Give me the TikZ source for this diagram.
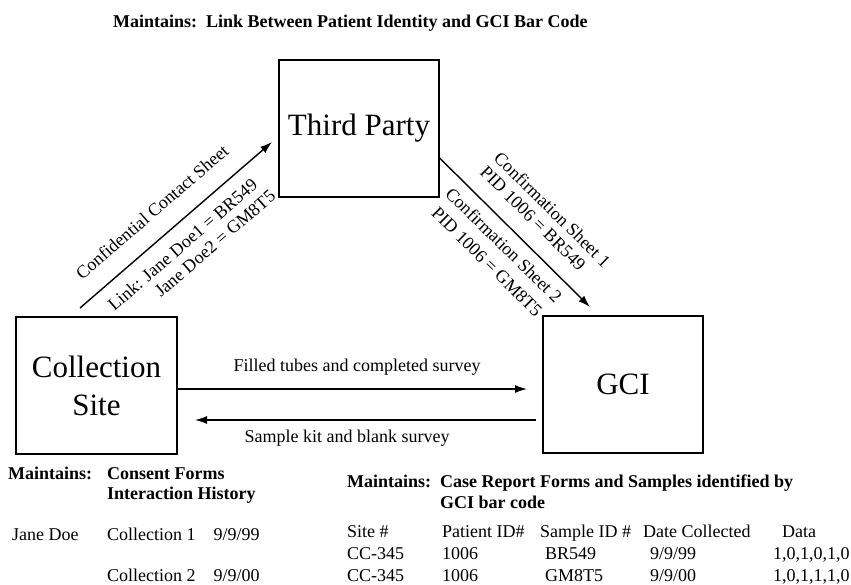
\documentclass[tikz,border=0pt]{standalone}
\usepackage{fontspec}
\setmainfont{Liberation Serif}
\usetikzlibrary{arrows.meta}

\begin{document}
\begin{tikzpicture}[x=1pt, y=-1pt,
	box/.style={draw, line width=1.2pt, minimum width=160pt, minimum height=137pt, inner sep=0pt, align=center, font=\fontsize{31}{38}\selectfont},
	flow/.style={line width=1.4pt, -{Latex[length=12pt, width=8pt]}},
	lbl/.style={inner sep=0pt, font=\fontsize{18}{20}\selectfont},
	txt/.style={inner sep=0pt, anchor=base west, font=\fontsize{18}{20}\selectfont},
	hdr/.style={txt, font=\fontsize{18}{20}\selectfont\bfseries}]
	\useasboundingbox (0,0) rectangle (851,584);
	\node[hdr] (t) at (113,27) {Maintains:\ \ Link Between Patient Identity and GCI Bar Code};
	\node[box] (0) at (359,128.5) {Third Party};
	\node[box, minimum width=161pt] (1) at (96.5,385.5) {Collection\\Site};
	\node[box] (2) at (623,384.5) {GCI};
	\coordinate (3) at (80,308);
	\coordinate (4) at (272,142);
	\coordinate (5) at (590,307);
	\coordinate (6) at (527,389);
	\coordinate (7) at (195,420);
	\draw[flow] (3) to (4);
	\draw[flow] ([yshift=-29.5pt]0.east) to (5);
	\draw[flow] ([yshift=-3.5pt]1.east) to (6);
	\draw[flow] ([xshift=-6pt, yshift=-35.5pt]2.west) to (7);
	\node[lbl, rotate=40.85] (8) at (152,212) {Confidential Contact Sheet};
	\node[lbl, rotate=40.85] (9) at (182.5,244.5) {Link: Jane Doe1 = BR549};
	\node[lbl, rotate=40.85] (10) at (215,243.5) {Jane Doe2 = GM8T5};
	\node[lbl, rotate=-44.6] (11) at (552.5,209.5) {Confirmation Sheet 1};
	\node[lbl, rotate=-44.6] (12) at (533,218.5) {PID 1006 = BR549};
	\node[lbl, rotate=-44.6] (13) at (504,245) {Confirmation Sheet 2};
	\node[lbl, rotate=-44.6] (14) at (487,262) {PID 1006 = GM8T5};
	\node[lbl] (15) at (357,367) {Filled tubes and completed survey};
	\node[lbl] (16) at (347,438) {Sample kit and blank survey};
	% collection site records
	\node[hdr] (17) at (8,479) {Maintains:};
	\node[hdr] (18) at (107,479) {Consent Forms};
	\node[hdr] (19) at (107,499) {Interaction History};
	\node[txt] (20) at (12,540) {Jane Doe};
	\node[txt] (21) at (107,540) {Collection 1\quad 9/9/99};
	\node[txt] (22) at (107,581) {Collection 2\quad 9/9/00};
	% GCI records
	\node[hdr] (23) at (347,487) {Maintains:};
	\node[hdr] (24) at (440,487) {Case Report Forms and Samples identified by};
	\node[hdr] (25) at (440,508) {GCI bar code};
	\node[txt] (26) at (347,537) {Site \#};
	\node[txt] (27) at (442,537) {Patient ID\#};
	\node[txt] (28) at (540,537) {Sample ID \#};
	\node[txt] (29) at (643,537) {Date Collected};
	\node[txt] (30) at (782,537) {Data};
	\node[txt] (31) at (347,559) {CC-345};
	\node[txt] (32) at (442,559) {1006};
	\node[txt] (33) at (545,559) {BR549};
	\node[txt] (34) at (650,559) {9/9/99};
	\node[txt] (35) at (773,559) {1,0,1,0,1,0};
	\node[txt] (36) at (347,581) {CC-345};
	\node[txt] (37) at (442,581) {1006};
	\node[txt] (38) at (545,581) {GM8T5};
	\node[txt] (39) at (650,581) {9/9/00};
	\node[txt] (40) at (773,581) {1,0,1,1,1,0};
\end{tikzpicture}
\end{document}
